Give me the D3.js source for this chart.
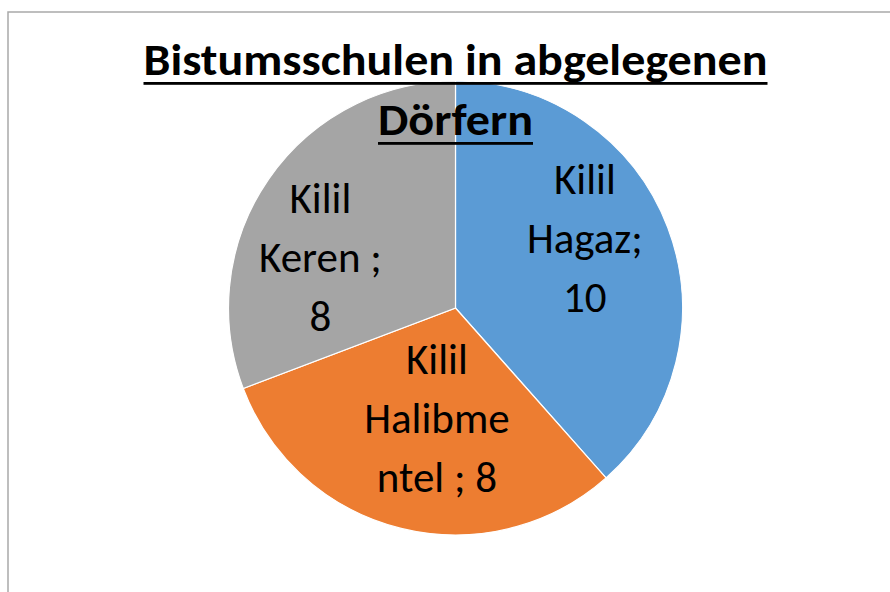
<!DOCTYPE html>
<html>
<head>
<meta charset="utf-8">
<script src="https://cdn.jsdelivr.net/npm/d3@7"></script>
<style>
  html, body { margin: 0; padding: 0; background: #fff; }
  svg { display: block; }
</style>
</head>
<body>
<div id="chart"></div>
<script>
// data
const categories = ["Kilil Hagaz", "Kilil Halibmentel ", "Kilil Keren "];
const values = [10, 8, 8];
const colors = ["#5B9BD5", "#ED7D31", "#A5A5A5"];
const titleLines = ["Bistumsschulen in abgelegenen", "Dörfern"];
// where Excel wrapped each data label (character index of each break)
const labelBreaks = [[6, 12], [6, 13], [6, 13]];

const width = 890;
const height = 592;
const cx = 455.5, cy = 308, radius = 227;
const font = "Carlito, Lato, 'Open Sans', sans-serif";

const svg = d3.select("#chart")
    .append("svg")
    .attr("width", width)
    .attr("height", height);

// chart area border (runs off the right and bottom edges)
svg.append("rect")
    .attr("x", 8)
    .attr("y", 12)
    .attr("width", width)
    .attr("height", height)
    .attr("fill", "#fff")
    .attr("stroke", "#a9a9a9")
    .attr("stroke-width", 1.5);

const pie = d3.pie().sort(null).value(d => d);
const arc = d3.arc().innerRadius(0).outerRadius(radius);
const labelArc = d3.arc().innerRadius(radius * 0.6).outerRadius(radius * 0.6);

const g = svg.append("g")
    .attr("transform", `translate(${cx},${cy})`);

const slices = g.selectAll(".slice")
    .data(pie(values))
    .enter().append("g")
    .attr("class", "slice");

slices.append("path")
    .attr("d", arc)
    .attr("fill", (d, i) => colors[i])
    .attr("stroke", "#fff")
    .attr("stroke-width", 1.2);

// best-fit nudges for the labels, relative to the centroid
const labelNudge = [[2, -7], [14, -7], [-23, 41]];
const lineHeight = 59;

slices.append("text")
    .attr("font-family", font)
    .attr("font-size", 43)
    .attr("fill", "#000")
    .attr("text-anchor", "middle")
    .attr("transform", (d, i) => {
        const c = labelArc.centroid(d);
        return `translate(${c[0] + labelNudge[i][0]},${c[1] + labelNudge[i][1]})`;
    })
    .each(function (d, i) {
        const txt = categories[i] + "; " + values[i];
        const b = labelBreaks[i];
        const lines = [txt.slice(0, b[0]), txt.slice(b[0], b[1]), txt.slice(b[1])].map(s => s.trim());
        d3.select(this).selectAll("tspan")
            .data(lines)
            .enter().append("tspan")
            .attr("x", 0)
            .attr("y", (l, k) => (k - 1) * lineHeight)
            .text(l => l);
    });

// title, bold + underlined
const titleY = [75, 135];
const titleW = [624, 155];
titleLines.forEach((t, i) => {
    svg.append("text")
        .attr("x", cx)
        .attr("y", titleY[i])
        .attr("text-anchor", "middle")
        .attr("font-family", font)
        .attr("font-weight", "bold")
        .attr("font-size", 45)
        .attr("textLength", titleW[i])
        .attr("lengthAdjust", "spacingAndGlyphs")
        .attr("fill", "#000")
        .text(t);
    svg.append("rect")
        .attr("x", cx - titleW[i] / 2)
        .attr("y", titleY[i] + 7)
        .attr("width", titleW[i])
        .attr("height", 2.8)
        .attr("fill", "#000");
});
</script>
</body>
</html>
